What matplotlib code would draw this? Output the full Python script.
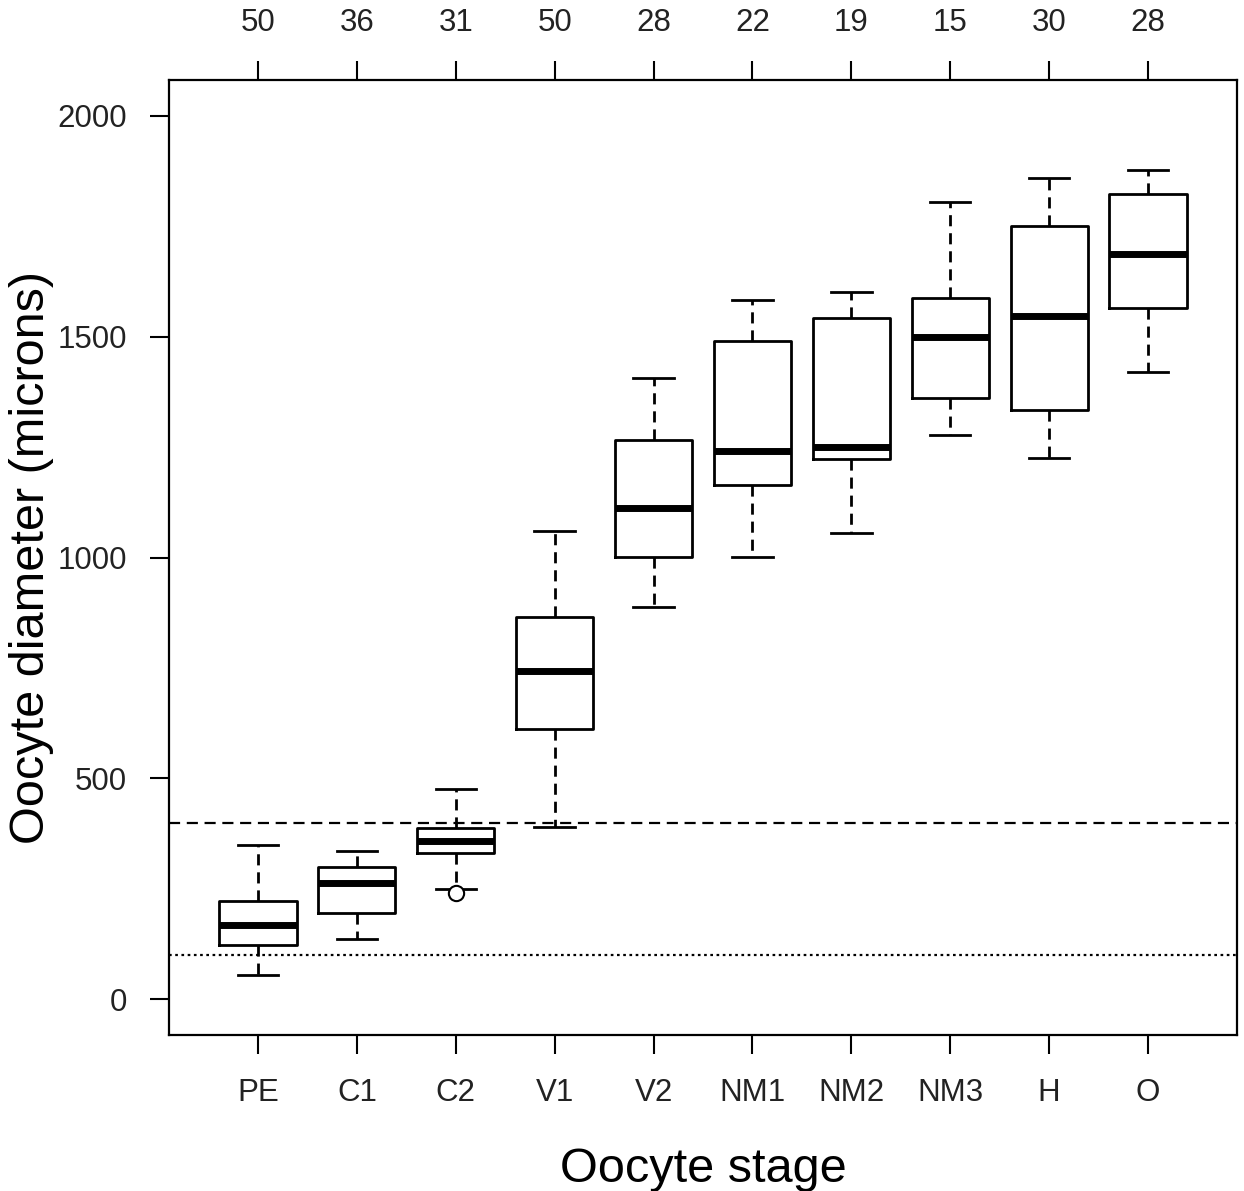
import numpy as np
import matplotlib.pyplot as plt

plt.rcParams['font.family'] = ['Liberation Sans', 'DejaVu Sans']

# oocyte stages and sample sizes (top axis)
stages = ['PE', 'C1', 'C2', 'V1', 'V2', 'NM1', 'NM2', 'NM3', 'H', 'O']
counts = [50, 36, 31, 50, 28, 22, 19, 15, 30, 28]

# box statistics (microns)
whisk_lo = [54, 136, 249, 390, 888, 1001, 1055, 1277, 1225, 1420]
q1 = [122, 195, 331, 612, 1001, 1164, 1223, 1361, 1334, 1565]
med = [168, 263, 358, 743, 1112, 1241, 1250, 1499, 1547, 1687]
q3 = [222, 299, 387, 865, 1266, 1490, 1542, 1588, 1751, 1823]
whisk_hi = [349, 335, 476, 1060, 1407, 1583, 1601, 1805, 1859, 1877]
outliers = [[], [], [240], [], [], [], [], [], [], []]

# reference lines
upper_ref = 400
lower_ref = 100

stats = []
for i in range(len(stages)):
    stats.append(dict(whislo=whisk_lo[i], q1=q1[i], med=med[i], q3=q3[i],
                      whishi=whisk_hi[i], fliers=outliers[i], label=stages[i]))

fig = plt.figure(figsize=(12.44, 11.91), dpi=100)
ax = fig.add_axes([169 / 1244, 1 - 1035 / 1191, (1237 - 169) / 1244, (1035 - 80) / 1191])

pos = np.arange(1, len(stages) + 1)
ax.bxp(stats, positions=pos, widths=0.78, patch_artist=False,
       boxprops=dict(color='black', linewidth=2),
       medianprops=dict(color='black', linewidth=5, solid_capstyle='butt'),
       whiskerprops=dict(color='black', linewidth=2, linestyle=(0, (4, 2.5))),
       capprops=dict(color='black', linewidth=2),
       capwidths=0.41,
       flierprops=dict(marker='o', markerfacecolor='white', markeredgecolor='black',
                       markersize=11, markeredgewidth=1.5))

ax.axhline(upper_ref, color='black', linewidth=1.6, linestyle=(0, (5, 3)))
ax.axhline(lower_ref, color='black', linewidth=1.6, linestyle=(0, (1.2, 1.6)))

ax.set_xlim(0.1, 10.9)
ax.set_ylim(-81, 2081)
ax.set_xticks(pos)
ax.set_xticklabels(stages)
ax.set_yticks([0, 500, 1000, 1500, 2000])
ax.tick_params(axis='both', direction='out', length=14, width=1.5, labelsize=22.5,
               colors='black', labelcolor='#222222')
ax.tick_params(axis='x', pad=17)
ax.tick_params(axis='y', pad=16)

top = ax.secondary_xaxis('top')
top.set_xticks(pos)
top.set_xticklabels([str(c) for c in counts])
top.tick_params(direction='out', length=14, width=1.5, labelsize=22.5, pad=16,
                labelcolor='#222222')
top.spines['top'].set_visible(False)

for s in ax.spines.values():
    s.set_linewidth(1.6)

ax.set_xlabel('Oocyte stage', fontsize=35, labelpad=28)
ax.set_ylabel('Oocyte diameter (microns)', fontsize=35, labelpad=3)

fig.savefig('out.png', dpi=100)
